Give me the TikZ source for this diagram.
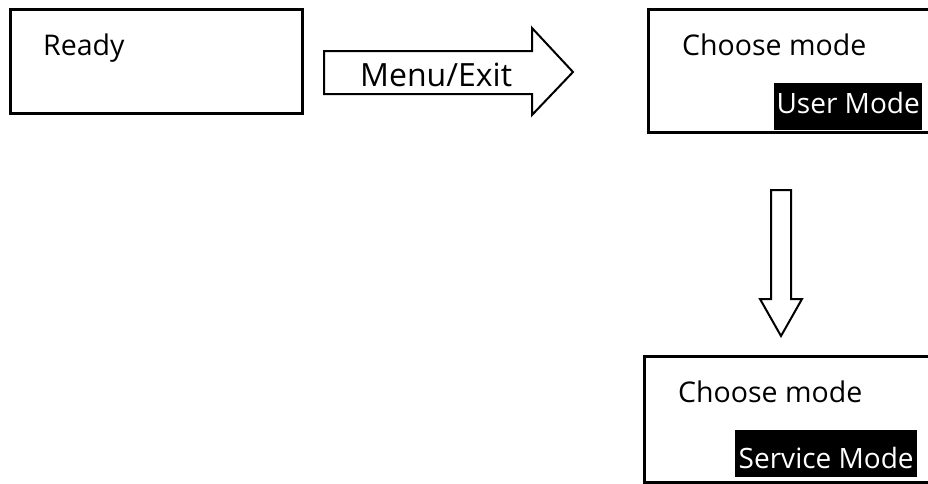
\documentclass[tikz,border=0pt]{standalone}
\usepackage{fontspec}
\setmainfont{Open Sans}

\begin{document}
\begin{tikzpicture}[x=1pt, y=-1pt, line join=miter,
  screen/.style={draw, line width=3pt, anchor=north west, inner sep=0pt},
  caption/.style={anchor=base west, inner sep=0pt, font=\fontsize{28.5}{34}\selectfont},
  modetag/.style={anchor=base west, fill=black, text=white, inner xsep=2pt, inner ysep=0pt,
    font=\fontsize{28}{34}\selectfont},
  blockarrow/.style={draw, line width=2pt, fill=white}]
\clip (0,0) rectangle (928,483);
% screens
\node[screen, minimum width=292, minimum height=104] (ready) at (9,8) {};
\node[screen, minimum width=300, minimum height=123] (choose) at (647,8) {};
\node[screen, minimum width=300, minimum height=126] (service) at (643,355) {};
% texts
\node[caption] (readytxt) at (43,55) {Ready};
\node[caption] (choosetxt) at (682,55) {Choose mode};
\node[caption] (choosetxtb) at (678,402) {Choose mode};
\node[modetag, text height=30, text depth=17, minimum width=148] (usermode) at (774,113) {User Mode};
\node[modetag, text height=38, text depth=9, minimum width=182] (servicemode) at (735,468) {Service Mode};
% Menu/Exit arrow
\draw[blockarrow] (324,51) -- (532,51) -- (532,28) -- (573,72) -- (532,115)
  -- (532,94) -- (324,94) -- cycle;
\node[anchor=base west, inner sep=0pt, font=\fontsize{32}{38}\selectfont] (menuexit) at (360,86) {Menu/Exit};
% down arrow
\draw[blockarrow] (771,190) -- (791,190) -- (791,299) -- (802,299) -- (781,336)
  -- (760,299) -- (771,299) -- cycle;
\end{tikzpicture}
\end{document}
